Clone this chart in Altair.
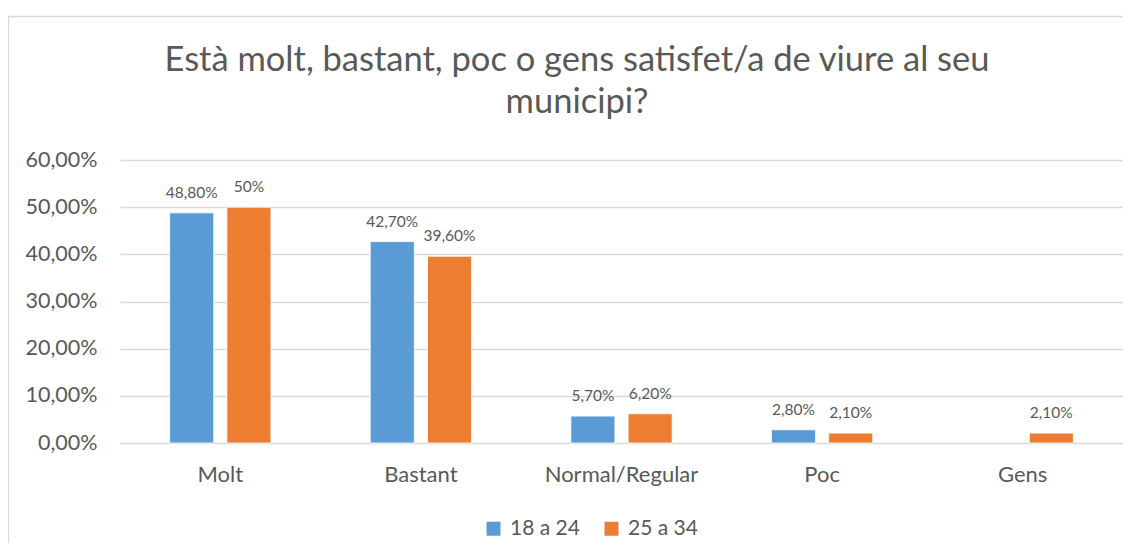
import altair as alt
import pandas as pd

categories = ["Molt", "Bastant", "Normal/Regular", "Poc", "Gens"]
series = ["18 a 24", "25 a 34"]
values_18_24 = [48.8, 42.7, 5.7, 2.8, None]
values_25_34 = [50.0, 39.6, 6.2, 2.1, 2.1]
colors = ["#5B9BD5", "#ED7D31"]
title_lines = ["Està molt, bastant, poc o gens satisfet/a de viure al seu", "municipi?"]
y_ticks = [0, 10, 20, 30, 40, 50, 60]


def fmt(v):
    if v is None:
        return ""
    if float(v).is_integer():
        return f"{int(v)}%"
    return f"{v:.2f}".replace(".", ",") + "%"


rows = []
for s, vals in zip(series, [values_18_24, values_25_34]):
    for c, v in zip(categories, vals):
        if v is None:
            continue
        rows.append({"cat": c, "serie": s, "val": v, "label": fmt(v)})
df = pd.DataFrame(rows)

W, H = 1003, 283
FONT = "Lato"
TXT = "#595959"

x = alt.X("cat:N", sort=categories, title=None,
          scale=alt.Scale(paddingInner=0.495, paddingOuter=0.2475),
          axis=alt.Axis(labelAngle=0, labelFontSize=22, labelColor=TXT, labelFont=FONT,
                        labelPadding=21, domain=False, ticks=False))
xo = alt.XOffset("serie:N", sort=series, scale=alt.Scale(paddingInner=0.23, paddingOuter=0))
y = alt.Y("val:Q", title=None,
          scale=alt.Scale(domain=[0, 60], nice=False),
          axis=alt.Axis(values=y_ticks, labelExpr="replace(format(datum.value, '.2f'), '.', ',') + '%'",
                        labelFontSize=21.5, labelColor=TXT, labelFont=FONT, labelPadding=23,
                        domain=False, ticks=False, gridColor="#D9D9D9", gridWidth=1.3))
color = alt.Color("serie:N", sort=series, scale=alt.Scale(domain=series, range=colors),
                  legend=alt.Legend(title=None, orient="none", direction="horizontal",
                                    legendX=363, legendY=358, symbolType="square",
                                    symbolSize=196, symbolStrokeWidth=0, labelFontSize=21,
                                    labelColor=TXT, labelFont=FONT, columnPadding=21,
                                    labelOffset=6))

base1 = alt.Chart(pd.DataFrame({"a": [0]}))
border = base1.mark_rect(
    fill=None, stroke="#D9D9D9", strokeWidth=1.3
).encode(x=alt.value(-111.5), x2=alt.value(W + 100), y=alt.value(-143.5), y2=alt.value(H + 200))

title1 = base1.mark_text(fontSize=34.5, color=TXT, font=FONT, align="center", baseline="middle").encode(
    x=alt.value(457), y=alt.value(-99), text=alt.value(title_lines[0]))
title2 = base1.mark_text(fontSize=34.5, color=TXT, font=FONT, align="center", baseline="middle").encode(
    x=alt.value(457), y=alt.value(-57), text=alt.value(title_lines[1]))

bars = alt.Chart(df).mark_bar(stroke="white", strokeWidth=0.8).encode(x=x, xOffset=xo, y=y, color=color)
labels = alt.Chart(df).mark_text(baseline="alphabetic", dy=-15, fontSize=15.5, color=TXT, font=FONT).encode(
    x=x, xOffset=xo, y=y, text="label:N")

chart = alt.layer(border, title1, title2, bars, labels).properties(
    width=W, height=H,
    autosize=alt.AutoSizeParams(type="none"),
    padding={"left": 112, "top": 152, "right": 0, "bottom": 100},
).configure(background="white").configure_view(stroke=None)

chart.save("out.html", embed_options={"renderer": "svg", "actions": False})
